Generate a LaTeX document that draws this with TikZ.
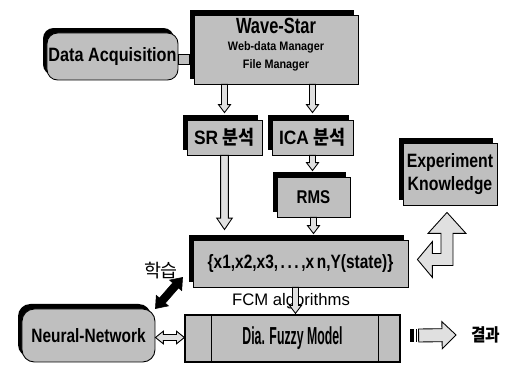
\documentclass[tikz,border=0pt]{standalone}
\usepackage{fontspec}
\usepackage{graphicx}
\setmainfont{Liberation Sans}
\newfontfamily\kr{Noto Sans CJK KR}
\usetikzlibrary{calc,shadows}
\newcommand\sq[2]{\scalebox{#1}[1]{#2}}
% single block arrow: #2 from, #3 to, #4 shaft half width, #5 head half width, #6 head length
\newcommand\barr[6][garrow]{%
  \coordinate (bas) at #2;
  \coordinate (bae) at #3;
  \coordinate (bab) at ($(bae)!#6!(bas)$);
  \filldraw[#1] ($(bas)!#4!90:(bae)$) -- ($(bab)!#4!-90:(bas)$) -- ($(bab)!#5!-90:(bas)$) -- (bae)
     -- ($(bab)!#5!90:(bas)$) -- ($(bab)!#4!90:(bas)$) -- ($(bas)!#4!-90:(bae)$) -- cycle;}
% double-headed block arrow
\newcommand\dbarr[6][garrow]{%
  \coordinate (bas) at #2;
  \coordinate (bae) at #3;
  \coordinate (bb1) at ($(bas)!#6!(bae)$);
  \coordinate (bb2) at ($(bae)!#6!(bas)$);
  \filldraw[#1] (bas) -- ($(bb1)!#5!90:(bae)$) -- ($(bb1)!#4!90:(bae)$) -- ($(bb2)!#4!-90:(bas)$)
     -- ($(bb2)!#5!-90:(bas)$) -- (bae) -- ($(bb2)!#5!90:(bas)$) -- ($(bb2)!#4!90:(bas)$)
     -- ($(bb1)!#4!-90:(bae)$) -- ($(bb1)!#5!-90:(bae)$) -- cycle;}
\begin{document}
\begin{tikzpicture}[x=0.02cm,y=-0.02cm,
  sz/.style 2 args={minimum width=#1*0.02cm, minimum height=#2*0.02cm},
  box/.style={draw=black, line width=0.5pt, fill=black!25, inner sep=0pt,
    font=\bfseries\fontsize{11}{13}\selectfont,
    general shadow={fill=black, shadow xshift=-0.08cm, shadow yshift=0.1cm}},
  dbox/.style={draw=black, line width=0.7pt, fill=black!25, inner sep=0pt},
  garrow/.style={draw=black, line width=0.5pt, fill=black!12, line join=miter},
  karrow/.style={draw=black, fill=black, line width=0.3pt},
  lbl/.style={inner sep=0pt, align=center}]
\fill[white] (0,0) rectangle (512,365);
\useasboundingbox (0,0) rectangle (512,365);

% boxes
\node[box, rounded corners=6pt, sz={131}{47}] (da) at (112.5,56.5) {\sq{0.84}{Data Acquisition}};
\node[box, sz={164}{69}] (ws) at (276,49.5) {};
\node[lbl, anchor=base, font=\bfseries\fontsize{12.5}{14}\selectfont] (ws1) at (276,33) {\sq{0.75}{Wave-Star}};
\node[lbl, anchor=base, font=\bfseries\fontsize{7}{9}\selectfont] (ws2) at (276,51) {\sq{0.88}{Web-data Manager}};
\node[lbl, anchor=base, font=\bfseries\fontsize{7}{9}\selectfont] (ws3) at (276,69) {\sq{0.88}{File Manager}};
\node[box, sz={75}{35}] (sr) at (224.5,137.5) {\sq{0.9}{SR {\kr\bfseries 분석}}};
\node[box, sz={81}{35}] (ica) at (312.5,137.5) {\sq{0.9}{ICA {\kr\bfseries 분석}}};
\node[box, sz={73}{40}, font=\bfseries\fontsize{10.5}{12}\selectfont] (rms) at (313.5,197) {\sq{0.82}{RMS}};
\node[box, sz={215}{47}] (xb) at (300.5,263.5) {\sq{0.8}{\{x1,x2,x3,\,.\,.\,.\,,x\,n,Y(state)\}}};
\node[box, sz={94}{62}, align=center] (ek) at (450,174) {\sq{0.82}{Experiment}\\\sq{0.82}{Knowledge}};
\node[box, rounded corners=7pt, sz={133}{53}] (nn) at (88.5,335.5) {\sq{0.8}{Neural-Network}};
\node[dbox, sz={215}{47}, font=\bfseries\fontsize{14}{16}\selectfont] (dia) at (292.5,338.5) {\sq{0.5}{Dia. Fuzzy Model}};
\draw[line width=0.6pt] ($(dia.north west)+(27,0)$) -- ($(dia.south west)+(27,0)$);
\draw[line width=0.6pt] ($(dia.north east)+(-22,0)$) -- ($(dia.south east)+(-22,0)$);

% labels
\node[lbl, font=\fontsize{9.5}{11}\selectfont] (fcm) at (291,301) {FCM algorithms};
\node[lbl, font=\kr\fontsize{10.5}{12}\selectfont] (learn) at (161,271) {학습};
\node[lbl, font=\kr\bfseries\fontsize{10}{11}\selectfont] (res) at (486,335) {\sq{0.9}{결과}};

% link DA - WS
\filldraw[fill=black!25, draw=black, line width=0.5pt] ($(da.east)+(0,-2)$) rectangle ($(da.east -| ws.west)+(-4,8)$);

% block arrows
\barr{(ws.south -| sr.north)}{($(sr.north)+(0,-7)$)}{1.7pt}{3.4pt}{4.5pt}
\barr{(ws.south -| ica.north)}{($(ica.north)+(0,-7)$)}{1.7pt}{3.4pt}{4.5pt}
\barr{(sr.south)}{($(sr.south |- xb.north)+(0,-10)$)}{2.2pt}{4.4pt}{6.5pt}
\barr{(ica.south)}{($(ica.south |- rms.north)+(0,-6)$)}{1.7pt}{3.4pt}{4.5pt}
\barr{(rms.south)}{($(rms.south |- xb.north)+(0,-6)$)}{1.7pt}{3.4pt}{4.5pt}
\barr{($(xb.south)+(-5,0)$)}{($(xb.south |- dia.north)+(-5,-1)$)}{1.7pt}{3.4pt}{4.5pt}
\dbarr{($(nn.east)+(0,2)$)}{($(nn.east -| dia.west)+(0,2)$)}{1.7pt}{3.6pt}{4.5pt}
\dbarr[karrow]{(nn.north east)}{($(xb.south west)+(-10,-10)$)}{2.2pt}{4.6pt}{6pt}

% bent arrow between xb and ek
\coordinate (bl) at ($(xb.east)+(9,-4)$);
\coordinate (bu) at ($(ek.south)+(-3,7)$);
\filldraw[garrow] (bl) -- ($(bl)+(15,-18)$) -- ($(bl)+(15,-6)$) -- ($(bl -| bu)+(-6,-6)$)
  -- ($(bu)+(-6,21)$) -- ($(bu)+(-19,21)$) -- (bu) -- ($(bu)+(19,21)$) -- ($(bu)+(6,21)$)
  -- ($(bl -| bu)+(6,6)$) -- ($(bl)+(15,6)$) -- ($(bl)+(15,18)$) -- cycle;

% output arrow
\fill[black] ($(dia.east)+(9,-9.5)$) rectangle ($(dia.east)+(13,3.5)$);
\fill[black] ($(dia.east)+(15,-9.5)$) rectangle ($(dia.east)+(16.5,3.5)$);
\barr{($(dia.east)+(18,-3)$)}{($(res.west)+(-15,0)$)}{3.7pt}{7.7pt}{8pt}
\end{tikzpicture}
\end{document}
